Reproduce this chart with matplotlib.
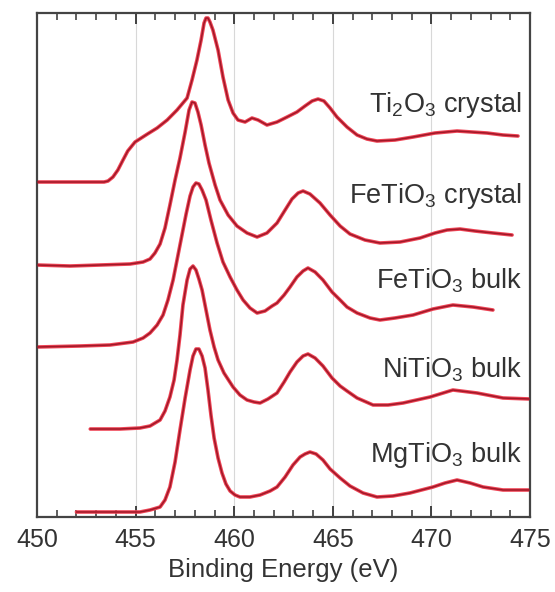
import numpy as np
import matplotlib
matplotlib.use("Agg")
import matplotlib.pyplot as plt
from matplotlib.ticker import MultipleLocator

plt.rcParams['font.family'] = ['Liberation Sans', 'DejaVu Sans']
plt.rcParams['mathtext.fontset'] = 'custom'
plt.rcParams['mathtext.rm'] = 'Liberation Sans'

# Ti 2p spectra, energies in eV, intensities relative to each curve's own baseline
ti2o3_e = [450.0, 452.7, 453.4, 453.6, 453.85, 454.1, 454.36, 454.6, 454.97, 455.6, 456.09, 456.6,
           457.1, 457.61, 457.86, 458.11, 458.32, 458.47, 458.57, 458.67, 458.77, 458.92,
           459.18, 459.43, 459.69, 459.94, 460.19, 460.55, 460.90, 461.21, 461.66, 462.17,
           462.68, 463.18, 463.59, 463.95, 464.25, 464.55, 464.86, 465.21, 465.72, 466.23,
           466.73, 467.24, 468.15, 469.07, 470.18, 471.30, 472.06, 472.82, 473.63, 474.39]
ti2o3_i = [0, 0, 0, 1, 5, 12, 22, 31, 40, 48, 54, 62,
           72, 84, 102, 122, 142, 159, 164, 164, 160, 152,
           132, 105, 82, 69, 62, 60, 64, 62, 57, 60,
           65, 70, 76, 81, 83, 81, 74, 65, 55, 47,
           43, 41, 42, 45, 49, 51, 50, 49, 47, 46]

fetio3_cr_e = [450.0, 451.67, 453.2, 454.72, 455.38, 455.73, 455.98, 456.24, 456.49, 456.74,
               457.00, 457.25, 457.51, 457.71, 457.86, 458.01, 458.16, 458.32, 458.52, 458.72,
               459.03, 459.28, 459.69, 460.14, 460.65, 461.16, 461.66, 462.17, 462.58, 462.93,
               463.24, 463.49, 463.84, 464.35, 464.86, 465.37, 465.87, 466.63, 467.39, 468.41,
               469.42, 470.18, 470.79, 471.45, 472.21, 473.12, 474.09]
fetio3_cr_i = [0, -1, 0, 1, 3, 6, 12, 21, 37, 60,
               85, 107, 133, 155, 163, 162, 153, 140, 120, 102,
               80, 65, 50, 39, 32, 28, 32, 42, 55, 66,
               72, 74, 71, 62, 50, 39, 31, 25, 22, 23,
               27, 32, 35, 36, 34, 32, 30]

fetio3_bk_e = [450.0, 452.18, 453.70, 454.87, 455.38, 455.73, 456.09, 456.39, 456.64, 456.90,
               457.10, 457.35, 457.56, 457.76, 457.91, 458.06, 458.21, 458.37, 458.57, 458.82,
               459.13, 459.43, 459.79, 460.14, 460.45, 460.80, 461.16, 461.56, 461.92, 462.17,
               462.53, 462.83, 463.18, 463.49, 463.74, 464.10, 464.50, 464.96, 465.37, 465.72,
               466.23, 466.89, 467.39, 468.15, 469.07, 470.08, 471.09, 472.11, 473.12]
fetio3_bk_i = [0, 1, 2, 5, 9, 14, 22, 32, 47, 67,
               87, 112, 133, 151, 160, 164, 163, 157, 147, 127,
               104, 85, 70, 57, 47, 39, 34, 36, 41, 44,
               52, 60, 70, 76, 79, 75, 67, 55, 47, 40,
               34, 29, 27, 29, 32, 38, 42, 40, 37]

nitio3_e = [452.7, 454.21, 455.22, 455.73, 456.24, 456.49, 456.74, 456.95, 457.10, 457.25,
            457.40, 457.61, 457.76, 457.91, 458.06, 458.21, 458.37, 458.57, 458.77, 458.98,
            459.18, 459.48, 459.94, 460.29, 460.65, 461.00, 461.31, 461.71, 462.17, 462.53,
            462.83, 463.18, 463.49, 463.74, 464.10, 464.50, 464.96, 465.37, 465.72, 466.23,
            467.04, 467.80, 468.56, 469.93, 471.09, 472.31, 473.63, 475.0]
nitio3_i = [0, 0, 1, 3, 9, 18, 32, 49, 69, 94,
            124, 149, 160, 163, 159, 150, 139, 119, 99, 82,
            69, 56, 42, 34, 29, 27, 26, 30, 36, 47,
            57, 67, 73, 75, 71, 63, 51, 43, 38, 31,
            24, 24, 26, 32, 39, 36, 31, 30]

mgtio3_e = [452.0, 454.21, 455.22, 455.73, 456.24, 456.49, 456.74, 457.00, 457.25, 457.51,
            457.76, 457.91, 458.06, 458.21, 458.37, 458.52, 458.67, 458.82, 458.98, 459.18,
            459.38, 459.58, 459.79, 460.04, 460.29, 460.80, 461.31, 461.82, 462.17, 462.58,
            462.98, 463.34, 463.59, 463.84, 464.15, 464.50, 464.86, 465.37, 465.87, 466.53,
            467.24, 468.05, 468.91, 470.08, 470.69, 471.30, 471.96, 472.62, 473.63, 475.0]
mgtio3_i = [0, 0, 0, 2, 5, 12, 25, 50, 82, 114,
            142, 156, 163, 163, 156, 144, 122, 97, 74, 54,
            39, 28, 21, 17, 15, 15, 17, 21, 25, 35,
            47, 55, 58, 60, 58, 52, 43, 34, 26, 19,
            15, 16, 19, 25, 29, 32, 29, 25, 22, 22]

labels = [r'Ti$\mathregular{_2}$O$\mathregular{_3}$ crystal',
          r'FeTiO$\mathregular{_3}$ crystal',
          r'FeTiO$\mathregular{_3}$ bulk',
          r'NiTiO$\mathregular{_3}$ bulk',
          r'MgTiO$\mathregular{_3}$ bulk']
energies = [ti2o3_e, fetio3_cr_e, fetio3_bk_e, nitio3_e, mgtio3_e]
intens = [ti2o3_i, fetio3_cr_i, fetio3_bk_i, nitio3_i, mgtio3_i]
offsets = [335, 252, 170, 88, 5]
label_y = [405, 314, 229, 140, 55]

fig = plt.figure(figsize=(5.55, 5.92), dpi=100)
ax = fig.add_axes([0.0667, 0.1267, 0.8883, 0.8513])

for xv in [455, 460, 465, 470]:
    ax.axvline(xv, color='#d8d8d8', lw=0.8, zorder=0)

for e, i, off, lab, ly in zip(energies, intens, offsets, labels, label_y):
    y = np.array(i) + off
    ax.plot(e, y, color='#ee4455', lw=2.6, solid_capstyle='round', solid_joinstyle='round', zorder=2)
    ax.plot(e, y, color='#a01828', lw=1.1, solid_capstyle='round', solid_joinstyle='round', zorder=3)
    ax.text(474.6, ly, lab, ha='right', va='baseline', fontsize=19.5, color='#333333')

ax.set_xlim(450, 475)
ax.set_ylim(0, 504)
ax.xaxis.set_major_locator(MultipleLocator(5))
ax.xaxis.set_minor_locator(MultipleLocator(1))
ax.tick_params(axis='x', which='both', direction='in', top=True, bottom=True,
               labelsize=18, colors='#333333', pad=8)
ax.tick_params(axis='x', which='major', length=8, width=1.3)
ax.tick_params(axis='x', which='minor', length=5, width=1.1)
ax.set_yticks([])
for s in ax.spines.values():
    s.set_color('#444444')
    s.set_linewidth(1.6)
ax.set_xlabel('Binding Energy (eV)', fontsize=18.5, color='#333333', labelpad=4)

fig.savefig('out.png', dpi=100)
